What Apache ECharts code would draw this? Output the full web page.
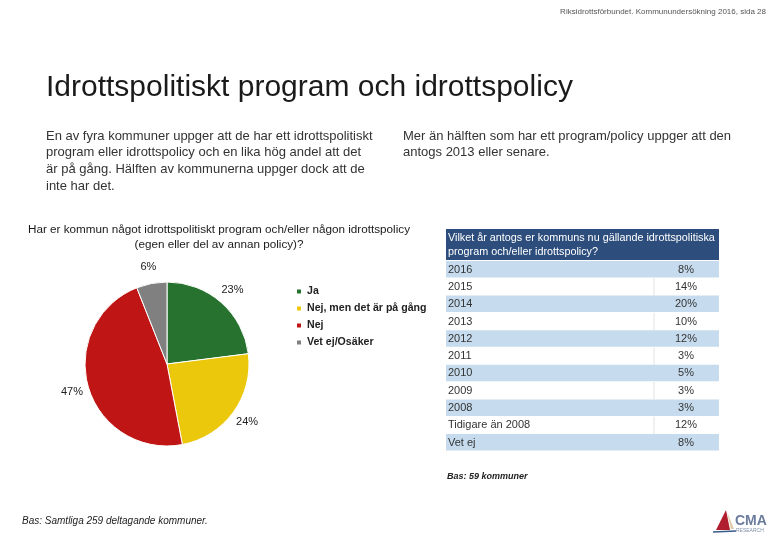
<!DOCTYPE html>
<html>
<head>
<meta charset="utf-8">
<script src="https://cdn.jsdelivr.net/npm/echarts@6/dist/echarts.min.js"></script>
<style>
html,body{margin:0;padding:0;background:#fff;}
#c{width:780px;height:540px;}
</style>
</head>
<body>
<div id="c"></div>
<script>
// ---- data ----
var pieCategories = ['Ja', 'Nej, men det är på gång', 'Nej', 'Vet ej/Osäker'];
var pieValues = [23, 24, 47, 6];
var pieColors = ['#27722e', '#ecc80c', '#bf1515', '#808080'];

var tableYears = ['2016', '2015', '2014', '2013', '2012', '2011', '2010', '2009', '2008', 'Tidigare än 2008', 'Vet ej'];
var tableValues = [8, 14, 20, 10, 12, 3, 5, 3, 3, 12, 8];

var bodyLeft = ['En av fyra kommuner uppger att de har ett idrottspolitiskt',
  'program eller idrottspolicy och en lika hög andel att det',
  'är på gång. Hälften av kommunerna uppger dock att de',
  'inte har det.'];
var bodyRight = ['Mer än hälften som har ett program/policy uppger att den',
  'antogs 2013 eller senare.'];

var FONT = 'Liberation Sans, Arial, sans-serif';
var chart = echarts.init(document.getElementById('c'));

var g = [];
function txt(x, y, s, size, color, extra) {
  var st = {text: s, fontSize: size, fill: color, fontFamily: FONT, textVerticalAlign: 'middle'};
  for (var k in extra) st[k] = extra[k];
  g.push({type: 'text', x: x, y: y, style: st, z: 10});
}
txt(766, 12, 'Riksidrottsförbundet. Kommunundersökning 2016, sida 28', 8, '#555', {textAlign: 'right'});
txt(46, 88, 'Idrottspolitiskt program och idrottspolicy', 30, '#1a1a1a', {});
bodyLeft.forEach(function (l, i) { txt(46, 136 + i * 16.7, l, 13, '#333', {}); });
bodyRight.forEach(function (l, i) { txt(403, 136 + i * 16.7, l, 13, '#333', {}); });
txt(219, 230, 'Har er kommun något idrottspolitiskt program och/eller någon idrottspolicy', 11.7, '#1a1a1a', {textAlign: 'center'});
txt(219, 245, '(egen eller del av annan policy)?', 11.7, '#1a1a1a', {textAlign: 'center'});
txt(22, 521, 'Bas: Samtliga 259 deltagande kommuner.', 10, '#222', {fontStyle: 'italic'});
txt(447, 477, 'Bas: 59 kommuner', 9, '#222', {fontStyle: 'italic', fontWeight: 'bold'});

// table
var tx = 446, tw = 273, hy = 229, hh = 31, rh = 17.3, ry0 = 261;
g.push({type: 'rect', shape: {x: tx, y: hy, width: tw, height: hh}, style: {fill: '#2d4e7c'}});
txt(448, 238, 'Vilket år antogs er kommuns nu gällande idrottspolitiska', 10.8, '#fff', {});
txt(448, 252, 'program och/eller idrottspolicy?', 10.8, '#fff', {});
tableYears.forEach(function (y, i) {
  var top = ry0 + i * rh;
  if (i % 2 === 0) {
    g.push({type: 'rect', shape: {x: tx, y: top, width: tw, height: rh - 0.8}, style: {fill: '#c6dcee'}});
  } else {
    g.push({type: 'line', shape: {x1: 654, y1: top, x2: 654, y2: top + rh}, style: {stroke: '#e2e2e2', lineWidth: 1}});
  }
  txt(448, top + rh / 2, y, 11, '#333', {});
  txt(686, top + rh / 2, tableValues[i] + '%', 11, '#333', {textAlign: 'center'});
});

// logo
g.push({type: 'polygon', shape: {points: [[726, 510], [730, 530], [716, 530]]}, style: {fill: '#b01e2e'}});
g.push({type: 'polygon', shape: {points: [[727, 512], [734, 529], [731, 529]]}, style: {fill: '#e0c9a6'}});
g.push({type: 'line', shape: {x1: 713, y1: 532, x2: 736, y2: 531}, style: {stroke: '#3a5a8a', lineWidth: 1.5}});
txt(735, 521, 'CMA', 14, '#6b7b9c', {fontWeight: 'bold'});
txt(736, 531, 'RESEARCH', 5, '#8090a8', {});

chart.setOption({
  animation: false,
  legend: {
    orient: 'vertical', left: 295, top: 286, padding: 0, itemWidth: 6, itemHeight: 6, itemGap: 6,
    icon: 'rect',
    textStyle: {fontSize: 10.6, fontWeight: 'bold', color: '#222', fontFamily: FONT,
      width: 130, overflow: 'truncate', ellipsis: ''},
    data: pieCategories
  },
  graphic: g,
  series: [{
    type: 'pie',
    center: [167, 364],
    radius: 82,
    startAngle: 90,
    clockwise: true,
    itemStyle: {borderColor: '#fff', borderWidth: 1},
    label: {show: false},
    labelLine: {show: false},
    emphasis: {disabled: true},
    data: pieCategories.map(function (n, i) {
      return {name: n, value: pieValues[i], itemStyle: {color: pieColors[i]}};
    })
  }, {
    // label ring (transparent) so the percentages sit just outside the pie
    type: 'pie',
    center: [167, 364],
    radius: [86, 106],
    startAngle: 90,
    clockwise: true,
    silent: true,
    itemStyle: {color: 'rgba(0,0,0,0)'},
    label: {show: true, position: 'inside', formatter: '{c}%', fontSize: 11, color: '#222', fontFamily: FONT},
    labelLine: {show: false},
    emphasis: {disabled: true},
    data: pieValues.map(function (v) { return {value: v}; })
  }]
});
</script>
</body>
</html>
